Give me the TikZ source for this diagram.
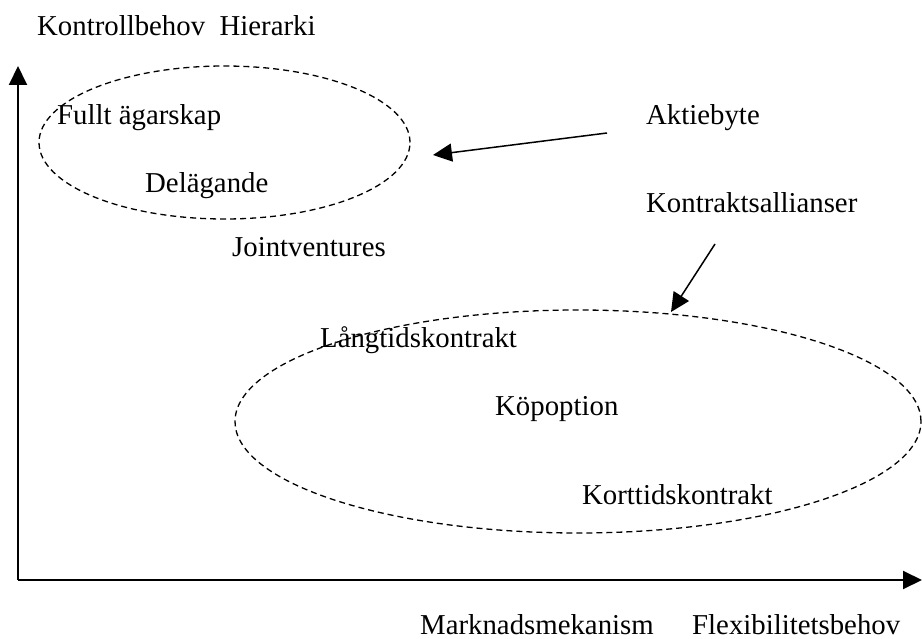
\documentclass[tikz,border=0pt]{standalone}
\usepackage{fontspec}
\setmainfont{Liberation Serif}
\usetikzlibrary{arrows.meta,shapes.geometric}
\tikzset{
  lbl/.style={anchor=base west, inner sep=0pt, font=\fontsize{28.8}{34}\selectfont},
  axisline/.style={line width=2pt, -{Triangle[length=19pt,width=18pt]}},
  pointer/.style={line width=1.5pt, -{Triangle[length=19pt,width=18pt]}},
  group/.style={draw, ellipse, line width=1.3pt, dash pattern=on 6pt off 4pt, inner sep=0pt}
}
\begin{document}
\begin{tikzpicture}[x=1pt,y=-1pt]
\useasboundingbox (0,0) rectangle (922,639);
\fill[white] (0,0) rectangle (922,639);

% axes
\coordinate (origin) at (18,580);
\coordinate (ytip) at (18,66);
\coordinate (xtip) at (922,580);
\draw[axisline] (origin) -- (ytip);
\draw[axisline] (origin) -- (xtip);

% dashed groupings
\node[group, minimum width=371pt, minimum height=153pt] (hier) at (224.5,142.5) {};
\node[group, minimum width=686pt, minimum height=223pt] (mark) at (578,421.5) {};

% labels
\node[lbl] (ylab) at (37,36) {Kontrollbehov\ \ Hierarki};
\node[lbl] (full) at (57,125) {Fullt ägarskap};
\node[lbl] (del) at (145,193) {Delägande};
\node[lbl] (jv) at (232,257) {Jointventures};
\node[lbl] (akt) at (646,125) {Aktiebyte};
\node[lbl] (kall) at (646,213) {Kontraktsallianser};
\node[lbl] (lang) at (320,348) {Långtidskontrakt};
\node[lbl] (kop) at (495,415) {Köpoption};
\node[lbl] (kort) at (582,504) {Korttidskontrakt};
\node[lbl] (mm) at (420,634) {Marknadsmekanism};
\node[lbl] (flex) at (692,634) {Flexibilitetsbehov};

% pointers
\coordinate (aktfrom) at (607,133);
\coordinate (aktto) at (433,155);
\coordinate (kallfrom) at (715,244);
\coordinate (kallto) at (671,312);
\draw[pointer] (aktfrom) -- (aktto);
\draw[pointer] (kallfrom) -- (kallto);
\end{tikzpicture}
\end{document}
